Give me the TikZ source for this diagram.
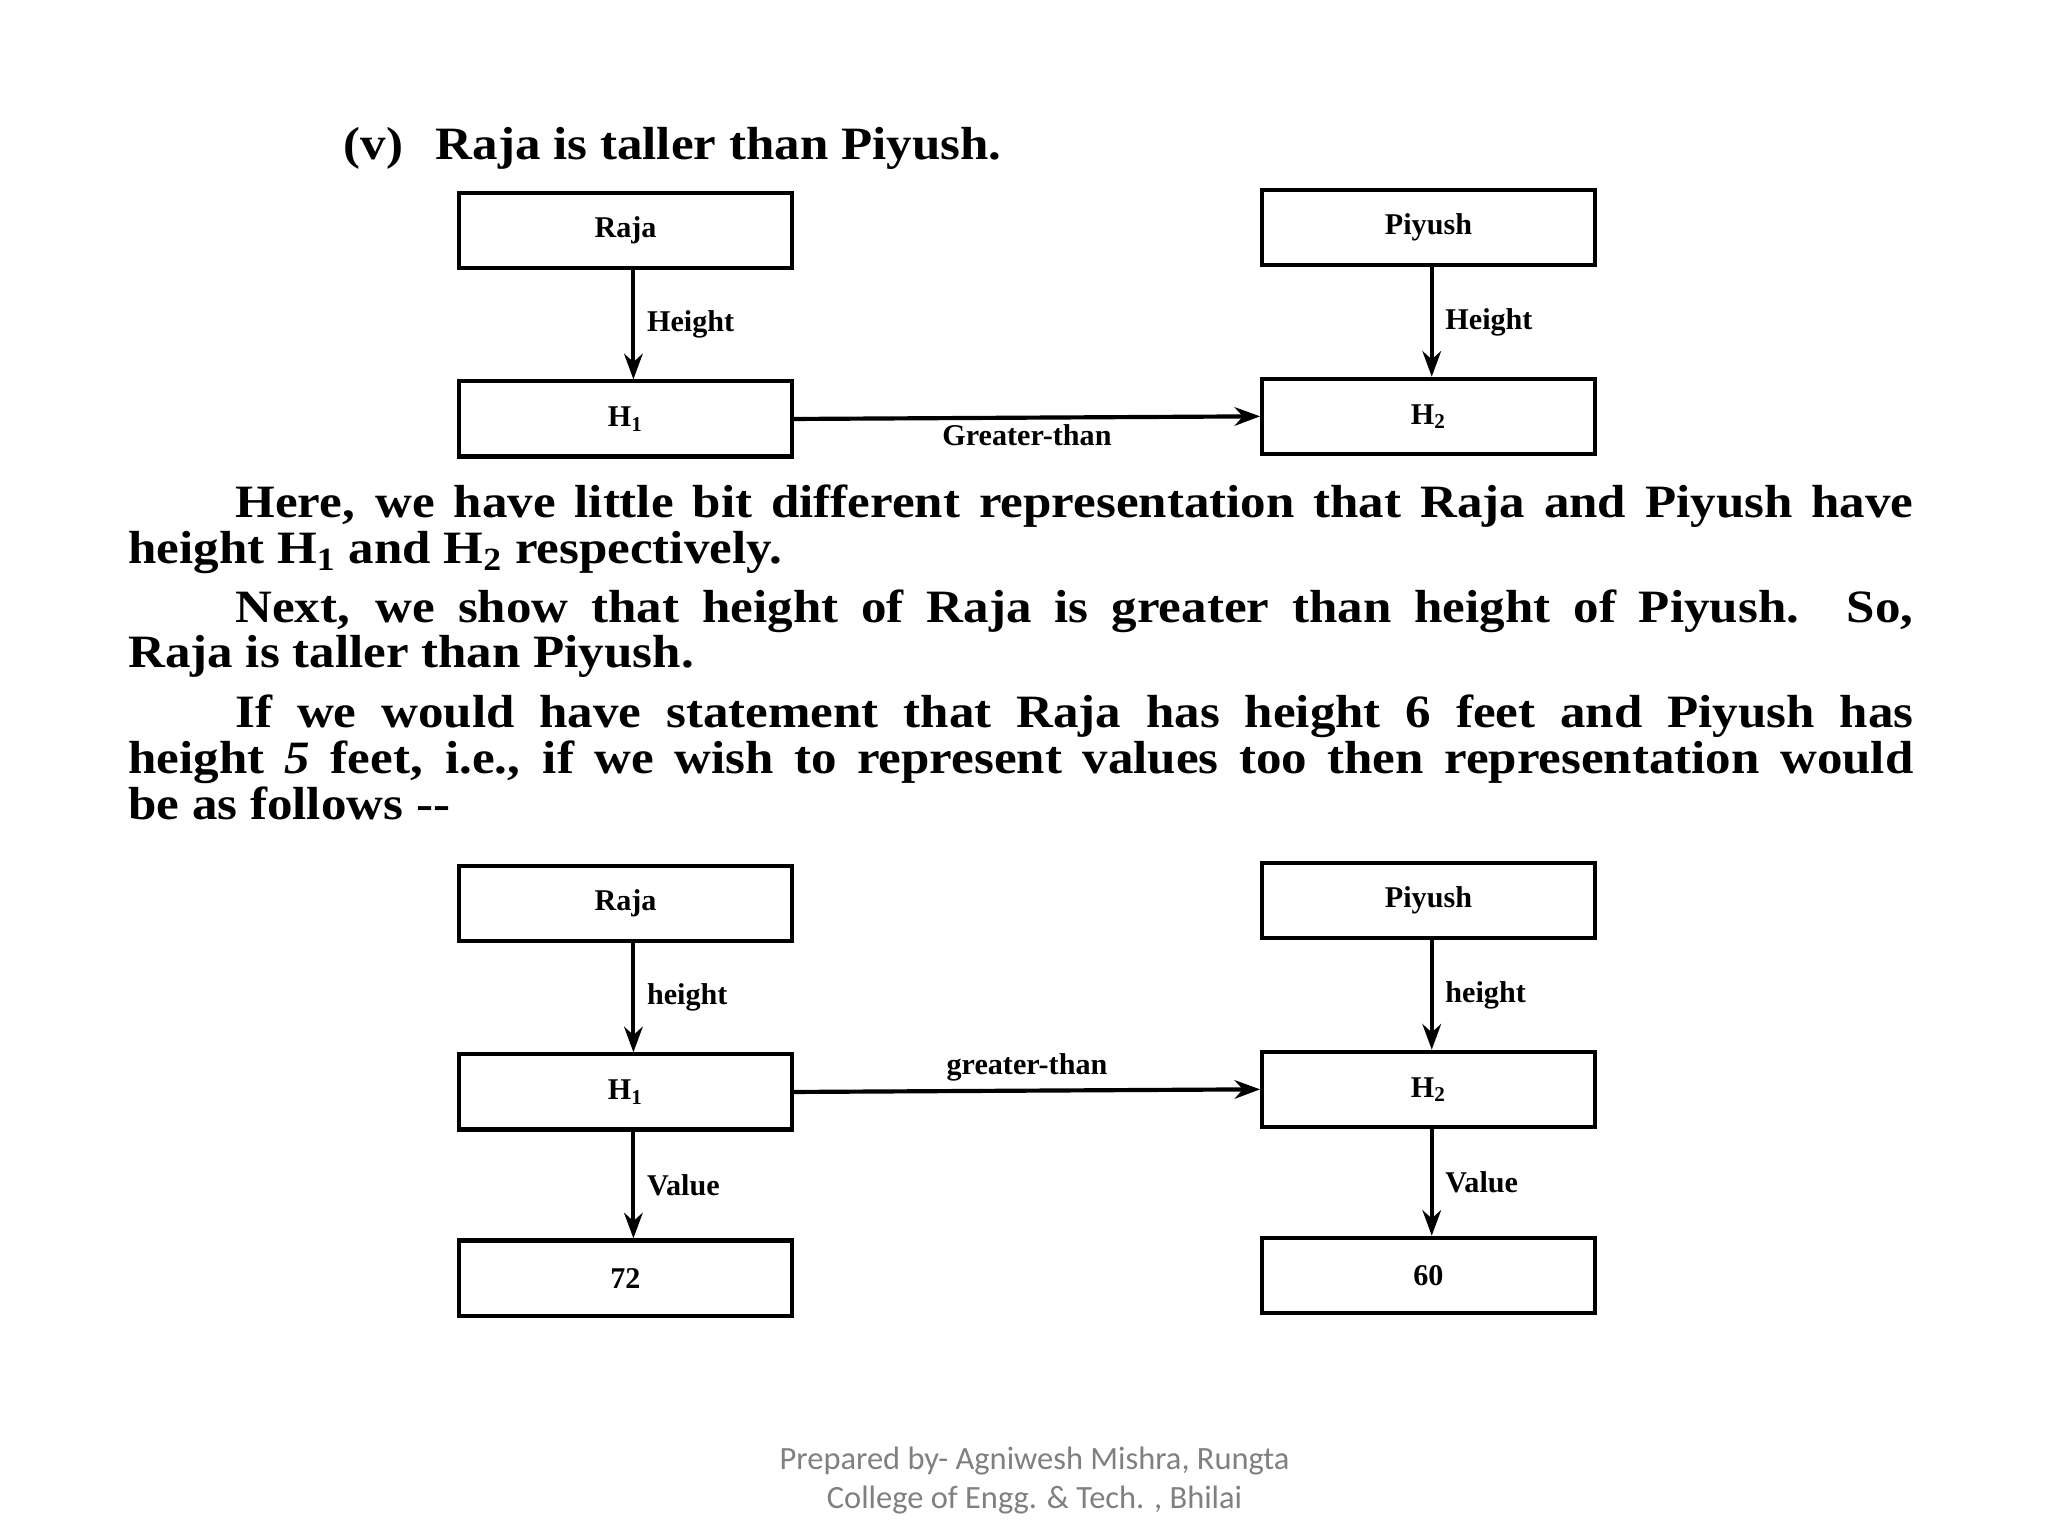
\documentclass[tikz,border=0pt]{standalone}
\usepackage{fontspec}
\setmainfont{Liberation Serif}
\newfontfamily\wide[FakeStretch=1.1]{Liberation Serif}
\newfontfamily\foot{Carlito}
\usetikzlibrary{arrows.meta}
\begin{document}
\begin{tikzpicture}[x=0.02cm,y=-0.02cm,
  bx/.style={draw,line width=1.8pt,minimum width=5.04cm,minimum height=1.14cm,inner sep=0pt,font=\bfseries\fontsize{13}{15}\selectfont},
  ar/.style={line width=1.8pt,-{Stealth[length=11pt,width=8pt]}},
  lb/.style={font=\bfseries\fontsize{13}{15}\selectfont,inner sep=1pt},
  tx/.style={anchor=base west,inner sep=0pt,font=\wide\bfseries\fontsize{20}{22}\selectfont}]
\useasboundingbox (0,0) rectangle (1552,1164);
% top diagram
\node[bx] (r1) at (474,174.5) {Raja};
\node[bx] (p1) at (1082.5,172.5) {Piyush};
\node[bx] (h1) at (474,317.5) {H\textsubscript{1}};
\node[bx] (h2) at (1082.5,315.5) {H\textsubscript{2}};
\draw[ar] (r1.south -| 480,0) -- (h1.north -| 480,0) node[midway,right,lb,xshift=4pt] {Height};
\draw[ar] (p1.south -| 1085,0) -- (h2.north -| 1085,0) node[midway,right,lb,xshift=4pt] {Height};
\draw[ar] (h1.east) -- (h2.west) node[midway,below,lb,yshift=-1pt] {Greater-than};
\node[tx] (t0) at (260,121) {(v)\hspace{0.5cm}Raja is taller than Piyush.};
% text
\node[tx] (l1) at (178,392) {\makebox[25.44cm][s]{Here, we have little bit different representation that Raja and Piyush have}};
\node[tx] (l2) at (97,427) {height H\textsubscript{1} and H\textsubscript{2} respectively.};
\node[tx] (l3) at (178,472) {\makebox[25.44cm][s]{Next, we show that height of Raja is greater than height of Piyush. So,}};
\node[tx] (l4) at (97,506) {Raja is taller than Piyush.};
\node[tx] (l5) at (178,551) {\makebox[25.44cm][s]{If we would have statement that Raja has height 6 feet and Piyush has}};
\node[tx] (l6) at (97,586) {\makebox[27.06cm][s]{height \textit{5} feet, i.e., if we wish to represent values too then representation would}};
\node[tx] (l7) at (97,621) {be as follows --};
% bottom diagram
\node[bx] (r2) at (474,684.5) {Raja};
\node[bx] (p2) at (1082.5,682.5) {Piyush};
\node[bx] (h3) at (474,827.5) {H\textsubscript{1}};
\node[bx] (h4) at (1082.5,825.5) {H\textsubscript{2}};
\node[bx] (v1) at (474,968.5) {72};
\node[bx] (v2) at (1082.5,966.5) {60};
\draw[ar] (r2.south -| 480,0) -- (h3.north -| 480,0) node[midway,right,lb,xshift=4pt] {height};
\draw[ar] (p2.south -| 1085,0) -- (h4.north -| 1085,0) node[midway,right,lb,xshift=4pt] {height};
\draw[ar] (h3.east) -- (h4.west) node[midway,above,lb,yshift=2pt] {greater-than};
\draw[ar] (h3.south -| 480,0) -- (v1.north -| 480,0) node[midway,right,lb,xshift=4pt] {Value};
\draw[ar] (h4.south -| 1085,0) -- (v2.north -| 1085,0) node[midway,right,lb,xshift=4pt] {Value};
% footer
\node[font=\foot\fontsize{14}{17}\selectfont,text=gray,align=center] (ft) at (784,1122) {Prepared by- Agniwesh Mishra, Rungta\\College of Engg. \& Tech. , Bhilai};
\end{tikzpicture}
\end{document}
